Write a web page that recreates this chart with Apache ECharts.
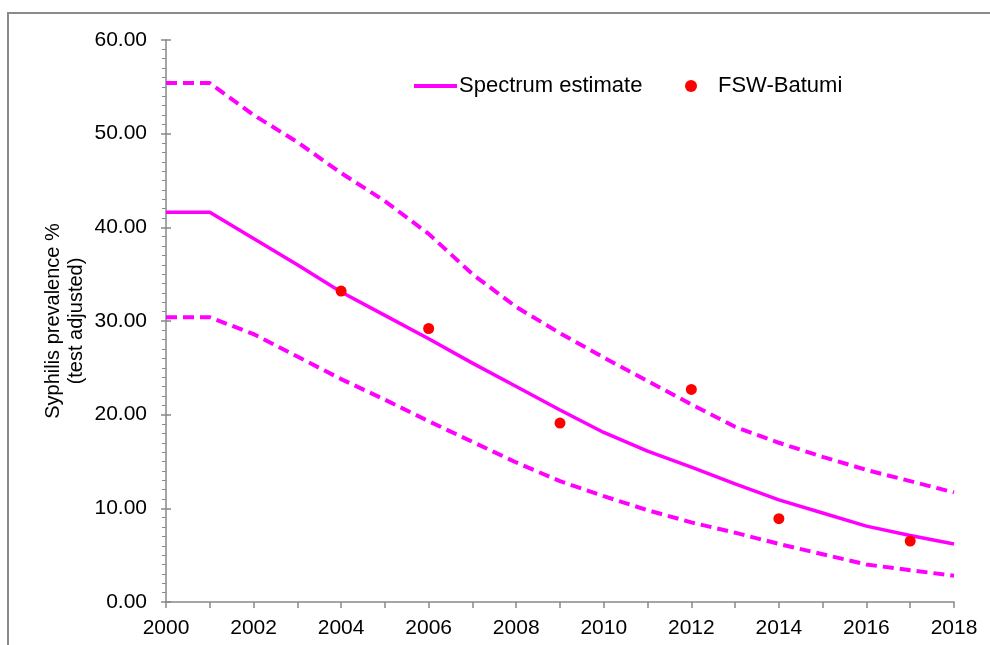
<!DOCTYPE html>
<html>
<head>
<meta charset="utf-8">
<title>Syphilis prevalence – FSW Batumi</title>
<script src="https://cdn.jsdelivr.net/npm/echarts@6/dist/echarts.min.js"></script>
<style>
  html, body { margin: 0; padding: 0; background: #fff; }
  #chart { width: 990px; height: 645px; }
</style>
</head>
<body>
<div id="chart"></div>
<script>
// Years of the Spectrum model run
var years = [2000, 2001, 2002, 2003, 2004, 2005, 2006, 2007, 2008, 2009,
             2010, 2011, 2012, 2013, 2014, 2015, 2016, 2017, 2018];
// Spectrum central estimate and its uncertainty bounds (%)
var estimate = [41.6, 41.6, 38.8, 36.0, 33.1, 30.6, 28.1, 25.5, 23.0, 20.5,
                18.1, 16.1, 14.4, 12.6, 10.9, 9.5, 8.1, 7.1, 6.2];
var upperBound = [55.4, 55.4, 52.0, 49.1, 45.8, 42.8, 39.3, 35.0, 31.5, 28.7,
                  26.1, 23.6, 21.1, 18.7, 17.0, 15.5, 14.1, 12.9, 11.7];
var lowerBound = [30.4, 30.4, 28.6, 26.2, 23.8, 21.6, 19.3, 17.1, 14.9, 12.9,
                  11.3, 9.8, 8.5, 7.4, 6.2, 5.1, 4.0, 3.4, 2.8];
// Survey observations among female sex workers in Batumi
var surveyYears = [2004, 2006, 2009, 2012, 2014, 2017];
var surveyValues = [33.2, 29.2, 19.1, 22.7, 8.9, 6.5];

var yTicks = { min: 0, max: 60, interval: 10 };
var xTicks = { min: 2000, max: 2018, interval: 2 };

function pairs(xs, ys) {
  return xs.map(function (x, i) { return [x, ys[i]]; });
}

var MAGENTA = '#ff00ff';
var RED = '#ff0000';
var FONT = 'Liberation Sans, Arial, sans-serif';
var AXIS_GREY = '#888888';

var chart = echarts.init(document.getElementById('chart'), null, { renderer: 'canvas' });

chart.setOption({
  animation: false,
  backgroundColor: '#ffffff',
  textStyle: { fontFamily: FONT, color: '#000' },
  graphic: [{
    type: 'rect',
    shape: { x: 8, y: 13, width: 1000, height: 700 },
    style: { fill: 'none', stroke: '#8a8a8a', lineWidth: 2 },
    silent: true
  }],
  grid: { left: 166, right: 36, top: 40, bottom: 43, containLabel: false },
  legend: [{
    left: 414, top: 75, padding: 0,
    itemWidth: 43, itemHeight: 4, itemGap: 0,
    data: [{ name: 'Spectrum estimate', icon: 'rect' }],
    itemStyle: { color: MAGENTA },
    textStyle: { fontFamily: FONT, fontSize: 22, color: '#000', padding: [0, 0, 0, -3] }
  }, {
    left: 685, top: 75, padding: 0,
    itemWidth: 12, itemHeight: 12,
    data: [{ name: 'FSW-Batumi', icon: 'circle' }],
    itemStyle: { color: RED, opacity: 1 },
    textStyle: { fontFamily: FONT, fontSize: 22, color: '#000', padding: [0, 0, 0, 16] }
  }],
  xAxis: {
    type: 'value',
    min: xTicks.min, max: xTicks.max, interval: xTicks.interval,
    axisLine: { show: true, lineStyle: { color: AXIS_GREY, width: 1.5 } },
    axisTick: { show: true, length: 6, lineStyle: { color: AXIS_GREY, width: 1.5 } },
    minorTick: { show: true, splitNumber: 2, length: 6, lineStyle: { color: AXIS_GREY, width: 1.5 } },
    splitLine: { show: false },
    axisLabel: { color: '#000', fontSize: 21, fontFamily: FONT, margin: 16,
                 formatter: function (v) { return String(v); } }
  },
  yAxis: [{
    type: 'value',
    min: yTicks.min, max: yTicks.max, interval: yTicks.interval,
    name: 'Syphilis prevalence %\n(test adjusted)',
    nameLocation: 'middle', nameRotate: 90, nameGap: 78,
    nameMoveOverlap: false,
    nameTextStyle: { fontFamily: FONT, fontSize: 20, color: '#000', lineHeight: 23, align: 'center' },
    axisLine: { show: true, lineStyle: { color: AXIS_GREY, width: 1.5 } },
    axisTick: { show: true, length: 5, lineStyle: { color: AXIS_GREY, width: 1.5 } },
    minorTick: { show: true, splitNumber: 10, length: 4, lineStyle: { color: AXIS_GREY, width: 1 } },
    splitLine: { show: false },
    axisLabel: { color: '#000', fontSize: 21, fontFamily: FONT, margin: 19,
                 formatter: function (v) { return v.toFixed(2); } }
  }, {
    // inward half of the major ticks
    type: 'value', position: 'left',
    min: yTicks.min, max: yTicks.max, interval: yTicks.interval,
    axisLine: { show: false },
    axisTick: { show: true, inside: true, length: 5, lineStyle: { color: AXIS_GREY, width: 1.5 } },
    axisLabel: { show: false },
    splitLine: { show: false }
  }],
  series: [{
    name: 'Upper bound', type: 'line', symbol: 'none',
    data: pairs(years, upperBound),
    lineStyle: { color: MAGENTA, width: 4, type: [11, 6] },
    z: 2
  }, {
    name: 'Lower bound', type: 'line', symbol: 'none',
    data: pairs(years, lowerBound),
    lineStyle: { color: MAGENTA, width: 4, type: [11, 6] },
    z: 2
  }, {
    name: 'Spectrum estimate', type: 'line', symbol: 'none',
    data: pairs(years, estimate),
    itemStyle: { color: MAGENTA },
    lineStyle: { color: MAGENTA, width: 3.5 },
    z: 3
  }, {
    name: 'FSW-Batumi', type: 'scatter',
    data: pairs(surveyYears, surveyValues),
    symbol: 'circle', symbolSize: 11,
    itemStyle: { color: RED, opacity: 1 },
    z: 4
  }]
});
</script>
</body>
</html>
